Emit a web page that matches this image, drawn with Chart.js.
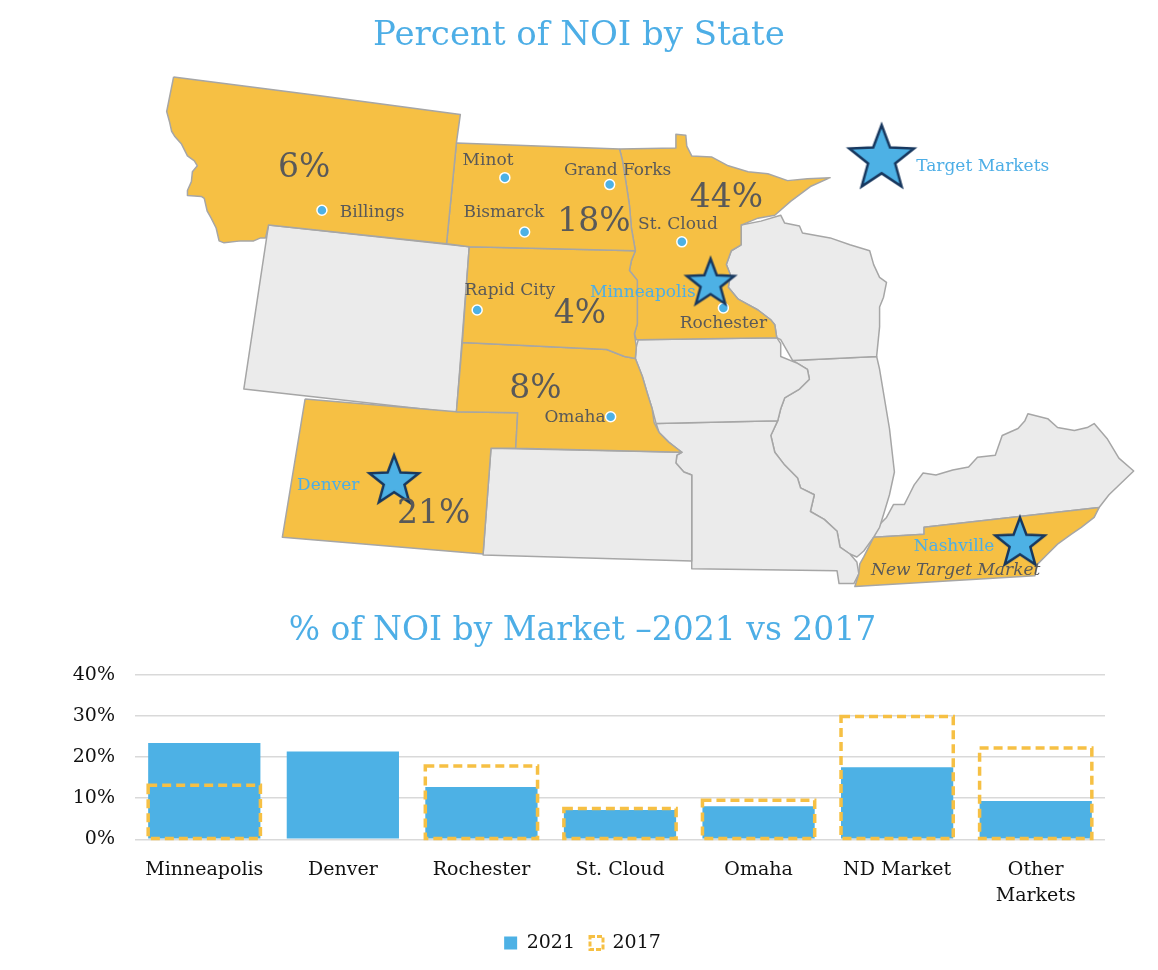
<!DOCTYPE html>
<html>
<head>
<meta charset="utf-8">
<title>Percent of NOI by State</title>
<script src="https://cdn.jsdelivr.net/npm/chart.js@4.4.1/dist/chart.umd.min.js"></script>
<style>
  body { margin: 0; background: #fff; }
  canvas { display: block; }
</style>
</head>
<body>
<canvas id="mapChart" width="1158" height="600"></canvas>
<canvas id="barChart" width="1158" height="370"></canvas>
<script>
// ---- map data (outline vertices in map units) ----
const stateNames = ['Montana', 'North Dakota', 'South Dakota', 'Nebraska', 'Colorado', 'Minnesota', 'Tennessee',
                    'Wyoming', 'Kansas', 'Iowa', 'Missouri', 'Wisconsin', 'Illinois', 'Kentucky'];
const stateInPortfolio = [true, true, true, true, true, true, true, false, false, false, false, false, false, false];

const montana = [[169,77],[317,96],[459,115],[455,144],[445,246],[265,227],[262,240],[257,240],[250,243],[237,243],
  [220,245],[215,243],[212,230],[207,220],[203,213],[200,200],[197,198],[183,197],[183,192],[187,183],[188,173],
  [193,167],[190,162],[183,157],[177,145],[170,137],[167,132],[165,123],[162,112],[169,77]];
const northDakota = [[455,144],[620,150],[623,162],[627,187],[630,207],[632,230],[636,253],[468,249],[445,246],[455,144]];
const southDakota = [[468,249],[636,253],[632,263],[630,273],[638,283],[638,327],[635,337],[637,350],[636,362],
  [625,360],[607,353],[461,346],[468,249]];
const nebraska = [[461,346],[607,353],[625,360],[636,362],[643,380],[648,397],[653,413],[655,427],[660,437],
  [670,447],[683,457],[515,453],[517,417],[455,416],[461,346]];
const colorado = [[302,403],[455,416],[517,417],[515,453],[490,453],[482,560],[279,543],[302,403]];
const minnesota = [[620,150],[677,149],[677,135],[687,136],[688,147],[693,157],[713,158],[730,167],[750,173],
  [770,175],[790,182],[810,180],[833,179],[813,188],[793,203],[777,217],[760,220],[743,227],[743,247],[733,253],
  [728,267],[732,277],[730,290],[740,302],[760,313],[773,323],[777,328],[779,341],[639,343],[637,343],[635,337],
  [638,327],[638,283],[630,273],[632,263],[636,253],[632,230],[630,207],[627,187],[623,162],[620,150]];
const tennessee = [[877,543],[928,540],[928,533],[1105,513],[1100,523],[1087,533],[1077,540],[1063,550],[1053,560],
  [1043,570],[1040,582],[858,593],[862,580],[863,570],[867,563],[872,553],[877,543]];
const wyoming = [[265,227],[468,249],[455,417],[240,393],[265,227]];
const kansas = [[490,453],[683,457],[678,460],[677,468],[685,477],[693,480],[693,567],[482,561],[490,453]];
const iowa = [[639,343],[779,341],[783,347],[783,360],[800,367],[810,373],[812,383],[802,393],[787,402],[783,413],
  [780,425],[657,428],[653,413],[648,397],[643,380],[636,362],[637,350],[639,343]];
const missouri = [[657,428],[780,425],[773,440],[777,457],[787,470],[800,483],[803,493],[817,500],[813,517],[827,525],
  [840,537],[843,553],[853,560],[860,568],[862,580],[857,590],[842,590],[840,577],[693,575],[693,480],[685,477],
  [677,468],[678,460],[683,457],[670,447],[660,437],[657,428]];
const wisconsin = [[743,227],[763,223],[783,217],[787,225],[802,228],[805,235],[833,240],[853,247],[873,253],[877,267],
  [883,280],[890,285],[887,300],[883,310],[883,330],[880,360],[795,364],[783,343],[779,341],[777,328],[773,323],
  [760,313],[740,302],[730,290],[732,277],[728,267],[733,253],[743,247],[743,227]];
const illinois = [[795,364],[880,360],[883,373],[893,433],[898,477],[893,500],[887,520],[883,533],[877,543],[867,557],
  [860,563],[853,560],[843,553],[840,537],[827,525],[813,517],[817,500],[803,493],[800,483],[787,470],[777,457],
  [773,440],[780,425],[783,413],[787,402],[802,393],[812,383],[810,373],[800,367],[795,364]];
const kentucky = [[877,543],[928,540],[928,533],[1105,513],[1115,500],[1140,476],[1125,463],[1113,443],[1100,428],
  [1093,432],[1080,435],[1063,432],[1053,423],[1033,418],[1030,425],[1023,433],[1007,440],[1000,460],[982,462],
  [973,472],[957,475],[940,480],[927,478],[918,490],[913,500],[908,510],[897,510],[890,523],[883,530],[877,543]];
const stateOutlines = [montana, northDakota, southDakota, nebraska, colorado, minnesota, tennessee,
                       wyoming, kansas, iowa, missouri, wisconsin, illinois, kentucky];

// share of NOI per state and where it is written
const shareLabels = ['6%', '18%', '44%', '4%', '8%', '21%'];
const sharePos = [[301,170],[594,224],[728,200],[580,317],[535,393],[432,520]];

// cities with a property dot
const cityNames = ['Billings', 'Minot', 'Grand Forks', 'Bismarck', 'St. Cloud', 'Rapid City', 'Rochester', 'Omaha'];
const cityDots = [[319,212],[504,179],[610,186],[524,234],[683,244],[476,313],[725,311],[611,421]];
const cityTextPos = [[337,214],[487,162],[618,172],[503,214],[679,227],[509,293],[725,327],[606,422]];
const cityTextAlign = ['left', 'center', 'center', 'center', 'center', 'center', 'center', 'right'];

// target markets (stars)
const targetNames = ['Target Markets', 'Minneapolis', 'Denver', 'Nashville'];
const targetStars = [[885,157],[712,284],[392,484],[1025,547]];
const targetTextPos = [[920,168],[697,295],[357,491],[999,553]];
const targetTextAlign = ['left', 'right', 'right', 'right'];
const starSizes = [34, 25, 26, 26];

// ---- bar chart data ----
const markets = ['Minneapolis', 'Denver', 'Rochester', 'St. Cloud', 'Omaha', 'ND Market', ['Other', 'Markets']];
const noi2021 = [23.4, 21.3, 12.7, 7.1, 8.0, 17.5, 9.3];
const noi2017 = [13.1, null, 17.8, 7.5, 9.5, 29.8, 22.2];
const yTicks = [0, 10, 20, 30, 40];

const BLUE = '#4DB1E5';
const TITLE_BLUE = '#4DAEE6';
const GOLD = '#F6C044';
const GREY_STATE = '#EBEBEB';
const GREY_TEXT = '#595959';
const SERIF = '"DejaVu Serif", "Liberation Serif", serif';

// star marker drawn once into a small canvas, used as point style
function starIcon(r) {
    const c = document.createElement('canvas');
    const s = Math.ceil(r * 2 + 6);
    c.width = s;
    c.height = s;
    const g = c.getContext('2d');
    g.translate(s / 2, s / 2 + r * 0.09);
    g.beginPath();
    for (let k = 0; k < 10; k++) {
        const rad = k % 2 ? r * 0.42 : r;
        const a = -Math.PI / 2 + k * Math.PI / 5;
        g.lineTo(rad * Math.cos(a), rad * Math.sin(a));
    }
    g.closePath();
    g.fillStyle = BLUE;
    g.fill();
    g.lineWidth = 2.5;
    g.strokeStyle = '#17375E';
    g.stroke();
    return c;
}

const toXY = pts => pts.map(p => ({ x: p[0], y: p[1] }));

// text on the map, placed through the chart scales
const mapLabels = {
    id: 'mapLabels',
    afterDatasetsDraw(chart) {
        const { ctx, scales: { x, y } } = chart;
        const put = (txt, pos, font, color, align) => {
            ctx.font = font;
            ctx.fillStyle = color;
            ctx.textAlign = align;
            ctx.fillText(txt, x.getPixelForValue(pos[0]), y.getPixelForValue(pos[1]));
        };
        ctx.save();
        ctx.textBaseline = 'middle';
        shareLabels.forEach((t, i) => put(t, sharePos[i], '33px ' + SERIF, GREY_TEXT, 'center'));
        cityNames.forEach((t, i) => put(t, cityTextPos[i], '17px ' + SERIF, GREY_TEXT, cityTextAlign[i]));
        targetNames.forEach((t, i) => put(t, targetTextPos[i], '17px ' + SERIF, TITLE_BLUE, targetTextAlign[i]));
        put('New Target Market', [960,577], 'italic 17px ' + SERIF, GREY_TEXT, 'center');
        ctx.restore();
    }
};

const stateSets = stateOutlines.map((pts, i) => ({
    type: 'line',
    label: stateNames[i],
    data: toXY(pts),
    fill: 'shape',
    backgroundColor: stateInPortfolio[i] ? GOLD : GREY_STATE,
    borderColor: '#A6A6A6',
    borderWidth: 1.5,
    borderJoinStyle: 'round',
    pointRadius: 0,
    tension: 0
}));

new Chart(document.getElementById('mapChart'), {
    type: 'line',
    data: {
        datasets: [
            {
                type: 'scatter',
                label: 'Target markets',
                data: toXY(targetStars),
                pointStyle: starSizes.map(starIcon),
                showLine: false
            },
            {
                type: 'scatter',
                label: 'Cities',
                data: toXY(cityDots),
                pointRadius: 5,
                pointBackgroundColor: BLUE,
                pointBorderColor: '#fff',
                pointBorderWidth: 1.5,
                showLine: false
            },
            ...stateSets
        ]
    },
    options: {
        responsive: false,
        animation: false,
        events: [],
        layout: { padding: 0 },
        scales: {
            x: { type: 'linear', min: 0, max: 1158, display: false },
            y: { type: 'linear', min: 70, max: 600, reverse: true, display: false }
        },
        plugins: {
            legend: { display: false },
            tooltip: { enabled: false },
            title: {
                display: true,
                text: 'Percent of NOI by State',
                color: TITLE_BLUE,
                font: { family: SERIF, size: 34, weight: 'normal', lineHeight: 1.2 },
                padding: { top: 16, bottom: 13.2 }
            }
        }
    },
    plugins: [mapLabels]
});

// dashed outline for the 2017 bars
const dashedBars = {
    id: 'dashedBars',
    afterDatasetsDraw(chart) {
        const meta = chart.getDatasetMeta(1);
        const ctx = chart.ctx;
        ctx.save();
        ctx.setLineDash([9, 5]);
        ctx.lineWidth = 3.5;
        ctx.strokeStyle = GOLD;
        meta.data.forEach((bar, i) => {
            if (noi2017[i] == null) return;
            const { x, y, base, width } = bar.getProps(['x', 'y', 'base', 'width'], true);
            ctx.strokeRect(x - width / 2, y, width, base - y);
        });
        ctx.restore();
    }
};

new Chart(document.getElementById('barChart'), {
    type: 'bar',
    data: {
        labels: markets,
        datasets: [
            {
                label: '2021',
                data: noi2021,
                backgroundColor: BLUE,
                grouped: false,
                barPercentage: 0.81,
                categoryPercentage: 1
            },
            {
                label: '2017',
                data: noi2017,
                backgroundColor: 'rgba(0,0,0,0)',
                borderWidth: 0,
                grouped: false,
                barPercentage: 0.81,
                categoryPercentage: 1
            }
        ]
    },
    options: {
        responsive: false,
        animation: false,
        events: [],
        layout: { padding: { left: 60, right: 53, bottom: 7.5 } },
        scales: {
            x: {
                grid: { display: false },
                border: { display: false },
                ticks: { color: '#111', padding: 9, font: { family: SERIF, size: 19, lineHeight: 1.4 } }
            },
            y: {
                min: 0,
                max: 40,
                afterBuildTicks: s => { s.ticks = yTicks.map(v => ({ value: v })); },
                afterFit: s => { s.width = 75; },
                grid: { color: '#D9D9D9', lineWidth: 1.5, drawTicks: false },
                border: { display: false },
                ticks: {
                    color: '#111',
                    padding: 20,
                    font: { family: SERIF, size: 19 },
                    callback: v => v + '%'
                }
            }
        },
        plugins: {
            tooltip: { enabled: false },
            title: {
                display: true,
                text: '% of NOI by Market \u20132021 vs 2017',
                color: TITLE_BLUE,
                font: { family: SERIF, size: 33, weight: 'normal', lineHeight: 1.2 },
                padding: { top: 12, bottom: 23 }
            },
            legend: {
                position: 'bottom',
                labels: {
                    color: '#111',
                    font: { family: SERIF, size: 19 },
                    boxWidth: 13,
                    boxHeight: 13,
                    padding: 15,
                    generateLabels(chart) {
                        const items = Chart.defaults.plugins.legend.labels.generateLabels(chart);
                        items[0].lineWidth = 0;
                        items[1].fillStyle = '#fff';
                        items[1].strokeStyle = GOLD;
                        items[1].lineWidth = 3;
                        items[1].lineDash = [5, 2];
                        return items;
                    }
                }
            }
        }
    },
    plugins: [dashedBars]
});
</script>
</body>
</html>
